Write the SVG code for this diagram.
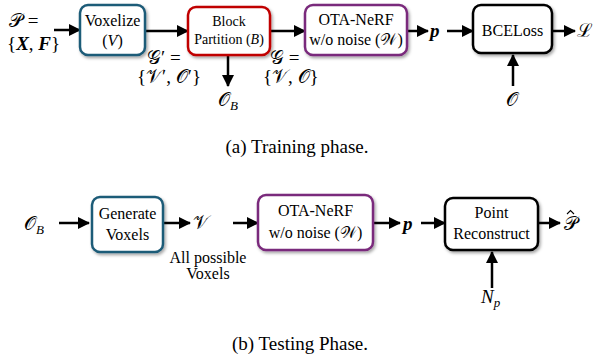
<svg xmlns="http://www.w3.org/2000/svg" width="595" height="360" viewBox="0 0 595 360">
<defs>
<marker id="ah" markerUnits="userSpaceOnUse" markerWidth="12" markerHeight="12" viewBox="0 0 12 12" refX="11" refY="6" orient="auto">
<path d="M0,0 L12,6 L0,12 Z" fill="#000"/>
</marker>
<filter id="sh" x="-10%" y="-10%" width="130%" height="130%">
<feDropShadow dx="1.5" dy="2" stdDeviation="1.5" flood-color="#000" flood-opacity="0.35"/>
</filter>
</defs>
<style>
.box{fill:#fff;stroke-width:2.5;filter:url(#sh)}
.teal{stroke:#1f5b78}
.red{stroke:#c00000}
.pur{stroke:#7a2a7c}
.blk{stroke:#000}
.t{font-family:"Liberation Serif","Times New Roman",serif;font-size:16px;fill:#000;text-anchor:middle}
.s{font-size:14px}
.m{font-family:"Liberation Serif","DejaVu Serif","Noto Sans",serif;font-size:19px;fill:#000}
.cap{font-family:"Liberation Serif","Times New Roman",serif;font-size:19px;fill:#000;text-anchor:middle}
.c line{stroke:#000;stroke-width:2.5;marker-end:url(#ah)}
</style>
<rect width="595" height="360" fill="#fff"/>

<g id="conn" class="c">
<line x1="54" y1="30" x2="80" y2="30"/>
<line x1="145" y1="31" x2="188" y2="31"/>
<line x1="228" y1="55" x2="228" y2="86"/>
<line x1="270" y1="31" x2="305" y2="31"/>
<line x1="407" y1="31" x2="428" y2="31"/>
<line x1="447" y1="31" x2="473" y2="31"/>
<line x1="552" y1="31" x2="575" y2="31"/>
<line x1="513" y1="86" x2="513" y2="55"/>
<line x1="59" y1="223" x2="89" y2="223"/>
<line x1="163" y1="223" x2="190" y2="223"/>
<line x1="233" y1="223" x2="258" y2="223"/>
<line x1="373" y1="223" x2="400" y2="223"/>
<line x1="421" y1="223" x2="445" y2="223"/>
<line x1="538" y1="223" x2="560" y2="223"/>
<line x1="492" y1="288" x2="492" y2="252"/>
</g>

<g id="voxelize">
<rect class="box teal" x="80" y="5" width="65" height="50" rx="8"/>
<text class="t" x="112.5" y="26">Voxelize</text>
<text class="t" x="112.5" y="46">(<tspan font-style="italic">V</tspan>)</text>
</g>
<g id="block">
<rect class="box red" x="188" y="7" width="82" height="48" rx="8"/>
<text class="t s" x="229" y="26">Block</text>
<text class="t s" x="229" y="44">Partition (<tspan font-style="italic">B</tspan>)</text>
</g>
<g id="otanerf1">
<rect class="box pur" x="305" y="5" width="102" height="50" rx="8"/>
<text class="t" x="356" y="25">OTA-NeRF</text>
<text class="t" x="356" y="45">w/o noise (𝒲)</text>
</g>
<g id="bceloss">
<rect class="box blk" x="473" y="5" width="79" height="48" rx="8"/>
<text class="t" x="512.5" y="36">BCELoss</text>
</g>

<g id="labels-a">
<text class="m" x="9" y="27">𝒫 =</text>
<text class="m" x="7" y="50">{<tspan font-weight="bold" font-style="italic">X</tspan>, <tspan font-weight="bold" font-style="italic">F</tspan>}</text>
<text class="m" x="147" y="64">𝒢′ =</text>
<text class="m" x="137" y="83">{𝒱′, 𝒪′}</text>
<text class="m" x="218" y="106">𝒪<tspan font-size="13" font-style="italic" dy="4">B</tspan></text>
<text class="m" x="270" y="64">𝒢 =</text>
<text class="m" x="263" y="83">{𝒱, 𝒪}</text>
<text class="m" x="430" y="37" font-weight="bold" font-style="italic" font-size="24">p</text>
<text class="m" x="577" y="37">ℒ</text>
<text class="m" x="506" y="106">𝒪</text>
</g>
<text class="cap" x="297" y="153">(a) Training phase.</text>

<g id="generate">
<rect class="box teal" x="92" y="197" width="71" height="55" rx="8"/>
<text class="t" x="127.5" y="219">Generate</text>
<text class="t" x="127.5" y="240">Voxels</text>
</g>
<g id="otanerf2">
<rect class="box pur" x="258" y="195" width="115" height="55" rx="8"/>
<text class="t" x="315.5" y="216">OTA-NeRF</text>
<text class="t" x="315.5" y="238">w/o noise (𝒲)</text>
</g>
<g id="pointrec">
<rect class="box blk" x="445" y="198" width="93" height="52" rx="8"/>
<text class="t" x="491.5" y="218">Point</text>
<text class="t" x="491.5" y="239">Reconstruct</text>
</g>
<g id="labels-b">
<text class="m" x="24" y="230">𝒪<tspan font-size="13" font-style="italic" dy="4">B</tspan></text>
<text class="m" x="193" y="229">𝒱</text>
<text class="t" x="208" y="263" font-size="14">All possible</text>
<text class="t" x="208" y="279" font-size="14">Voxels</text>
<text class="m" x="403" y="230" font-weight="bold" font-style="italic" font-size="24">p</text>
<text class="m" x="564" y="230">𝒫</text>
<path d="M567,214 L570.5,210.5 L574,214" fill="none" stroke="#000" stroke-width="1.1"/>
<text class="m" x="481" y="303" font-style="italic">N<tspan font-size="13" dy="4">p</tspan></text>
</g>
<text class="cap" x="300" y="350">(b) Testing Phase.</text>
</svg>
